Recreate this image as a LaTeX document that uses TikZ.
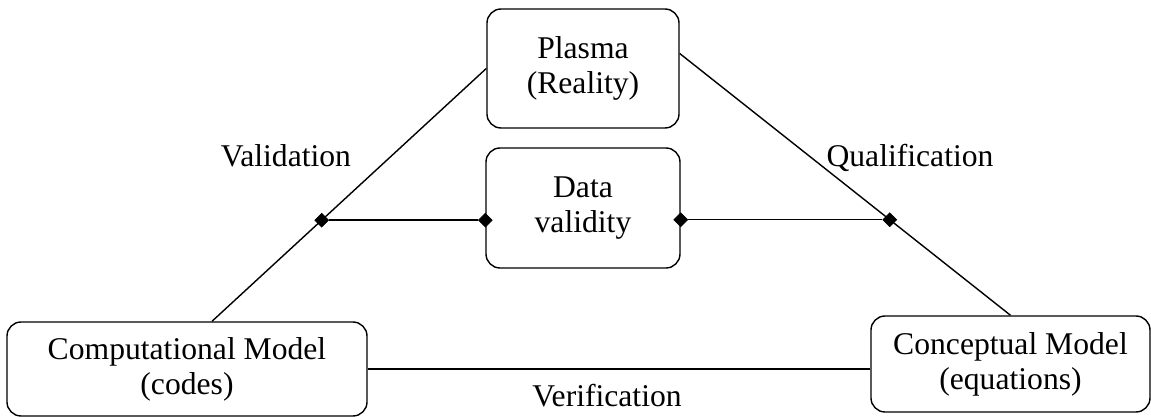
\documentclass[tikz,border=0pt]{standalone}
\usepackage{fontspec}
\setmainfont{Liberation Serif}
\usepackage{tikz}
\usetikzlibrary{positioning,calc,shapes.geometric}
\tikzset{
  blk/.style={rounded corners=8pt,draw=black,line width=0.8pt,
              align=center,font=\fontsize{18}{20}\selectfont,inner sep=0pt},
  lbl/.style={font=\fontsize{18}{20}\selectfont,anchor=base},
  link/.style={line width=0.8pt,black},
  junc/.style={diamond,fill=black,draw=black,inner sep=0pt,
               minimum size=2.8mm},
}

\begin{document}
\begin{tikzpicture}
  \useasboundingbox (0,0) rectangle (23.02,8.34);
  % boxes
  \node[blk,minimum width=3.84cm,minimum height=2.38cm] (plasma) at (11.66,6.97) {Plasma\\(Reality)};
  \node[blk,minimum width=3.88cm,minimum height=2.40cm] (data)   at (11.66,4.18) {Data\\validity};
  \node[blk,minimum width=7.20cm,minimum height=1.88cm] (comp)   at (3.74,0.96)  {Computational Model\\(codes)};
  \node[blk,minimum width=5.58cm,minimum height=1.92cm] (concept) at (20.21,1.06) {Conceptual Model\\(equations)};
  % triangle
  \coordinate (cl) at ([xshift=5mm]comp.north);
  \coordinate (pr) at ([yshift=3mm]plasma.east);
  \draw[link] (cl) -- (plasma.west);
  \draw[link] (pr) -- (concept.north);
  \draw[link] (comp.east) -- (comp.east -| concept.west);
  % data validity links
  \node[junc] (jl) at ($(cl)!0.4!(plasma.west)$) {};
  \node[junc] (jr) at ($(pr)!0.635!(concept.north)$) {};
  \node[junc] (dl) at (data.west |- jl) {};
  \node[junc] (dr) at (data.east |- jr) {};
  \draw[link] (jl) -- (dl);
  \draw[link] (dr) -- (jr);
  % labels
  \node[lbl] (val)  at (5.72,5.0)  {Validation};
  \node[lbl] (qual) at (18.2,5.0)  {Qualification};
  \node[lbl] (ver)  at (12.14,0.2) {Verification};
\end{tikzpicture}
\end{document}
